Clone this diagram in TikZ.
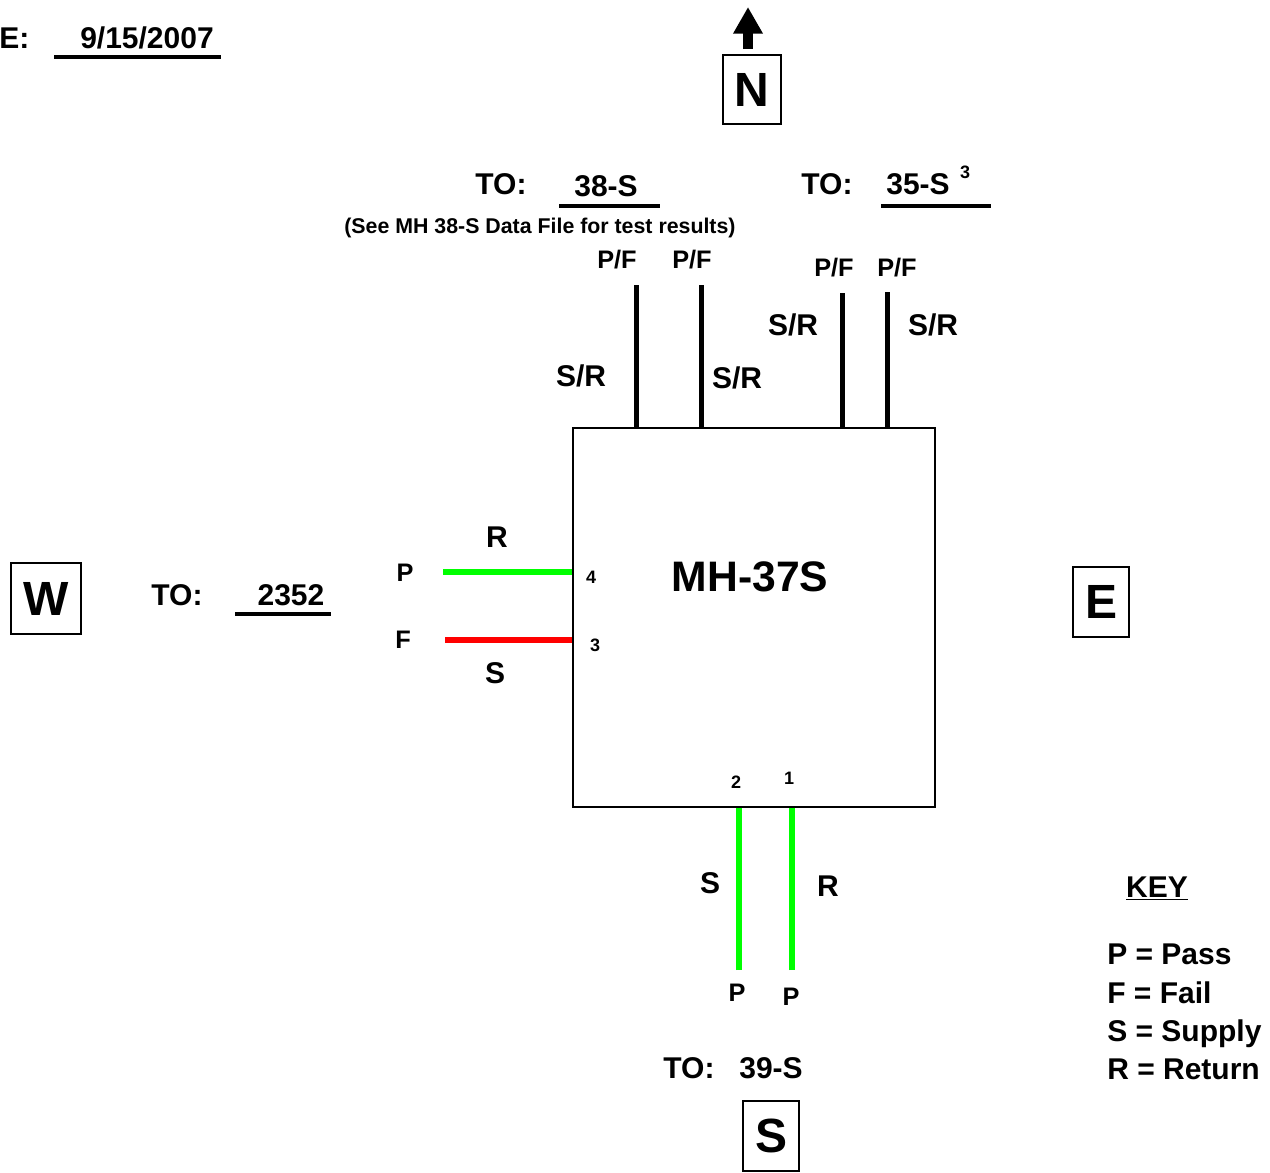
\documentclass[tikz,border=0pt]{standalone}
\usepackage{fontspec}
\setmainfont{Liberation Sans}
\usetikzlibrary{arrows.meta}
\tikzset{
  lbl/.style={inner sep=0pt, font=\bfseries\fontsize{22.5pt}{24pt}\selectfont},
  pf/.style={inner sep=0pt, font=\bfseries\fontsize{19pt}{21pt}\selectfont},
  num/.style={inner sep=0pt, font=\bfseries\fontsize{13.5pt}{15pt}\selectfont},
  dirbox/.style={draw, line width=1pt, inner sep=0pt, font=\bfseries\fontsize{36pt}{38pt}\selectfont},
  uline/.style={line width=3pt},
  pipe/.style={line width=3.75pt, black},
  gpipe/.style={line width=4.3pt, green},
  rpipe/.style={line width=4.3pt, red},
}
\begin{document}
\begin{tikzpicture}[x=0.75pt,y=-0.75pt]
\useasboundingbox (0,0) rectangle (1270,1172);
% date
\node[lbl, anchor=west] (datelbl) at (-1,38) {E:};
\node[lbl] (date) at (147,38) {9/15/2007};
\draw[uline] (54,57) -- (221,57);
% north arrow
\node[dirbox, minimum width=43.5pt, minimum height=51.75pt] (N) at (752,89.5) {N};
\coordinate (ntip) at (748,7);
\coordinate (nbase) at (748,49);
\draw[line width=7pt, -{Triangle[width=21pt,length=20pt]}] (nbase) -- (ntip);
% main box
\node[draw, line width=2pt, minimum width=271.5pt, minimum height=284.25pt, inner sep=0pt] (box) at (754,617.5) {};
\node[inner sep=0pt, font=\bfseries\fontsize{32pt}{34pt}\selectfont] (mh) at (750,577) {MH-37S};
% top labels
\node[lbl] (to38) at (501,184) {TO:};
\node[lbl] (d38) at (606,186) {38-S};
\draw[uline] (559,206) -- (660,206);
\node[lbl] (to35) at (827,184) {TO:};
\node[lbl] (d35) at (918,184) {35-S};
\node[num] (sup3) at (965,172) {3};
\draw[uline] (881,206) -- (991,206);
\node[inner sep=0pt, font=\bfseries\fontsize{16pt}{18pt}\selectfont] (see) at (540,228) {(See MH 38-S Data File for test results)};
\node[pf] (pf1) at (617,260) {P/F};
\node[pf] (pf2) at (692,260) {P/F};
\node[pf] (pf3) at (834,268) {P/F};
\node[pf] (pf4) at (897,268) {P/F};
\node[lbl] (sr1) at (581,376) {S/R};
\node[lbl] (sr2) at (737,378) {S/R};
\node[lbl] (sr3) at (793,325) {S/R};
\node[lbl] (sr4) at (933,325) {S/R};
\coordinate (t1) at (636,285);
\coordinate (t2) at (701,285);
\coordinate (t3) at (842,293);
\coordinate (t4) at (887,292);
\draw[pipe] (t1) -- (t1 |- box.north);
\draw[pipe] (t2) -- (t2 |- box.north);
\draw[pipe] (t3) -- (t3 |- box.north);
\draw[pipe] (t4) -- (t4 |- box.north);
% west side
\node[dirbox, minimum width=52.5pt, minimum height=53.25pt] (W) at (46,598.5) {W};
\node[lbl] (tow) at (177,595) {TO:};
\node[lbl] (d2352) at (291,595) {2352};
\draw[uline] (235,614) -- (331,614);
\node[lbl] (wr) at (497,537) {R};
\node[pf] (wp) at (405,573) {P};
\node[pf] (wf) at (403,640) {F};
\node[lbl] (ws) at (495,673) {S};
\node[num] (n4) at (591,577) {4};
\node[num] (n3) at (595,645) {3};
\coordinate (w4) at (443,572);
\coordinate (w3) at (445,640);
\draw[gpipe] (w4) -- (w4 -| box.west);
\draw[rpipe] (w3) -- (w3 -| box.west);
% east
\node[dirbox, minimum width=42pt, minimum height=52.5pt] (E) at (1101,602) {E};
% south
\node[num] (n2) at (736,782) {2};
\node[num] (n1) at (789,778) {1};
\coordinate (s2) at (739,970);
\coordinate (s1) at (792,970);
\draw[gpipe] (s2) -- (s2 |- box.south);
\draw[gpipe] (s1) -- (s1 |- box.south);
\node[lbl] (ss) at (710,883) {S};
\node[lbl] (sr) at (828,886) {R};
\node[pf] (sp2) at (737,993) {P};
\node[pf] (sp1) at (791,997) {P};
\node[lbl] (tos) at (689,1068) {TO:};
\node[lbl] (d39) at (771,1068) {39-S};
\node[dirbox, minimum width=42pt, minimum height=52.5pt] (S) at (771,1136) {S};
% key
\node[lbl] (key) at (1157,888) {\underline{KEY}};
\node[lbl, anchor=base west] (k1) at (1107,964) {P = Pass};
\node[lbl, anchor=base west] (k2) at (1107,1003) {F = Fail};
\node[lbl, anchor=base west] (k3) at (1107,1041) {S = Supply};
\node[lbl, anchor=base west] (k4) at (1107,1079) {R = Return};
\end{tikzpicture}
\end{document}
